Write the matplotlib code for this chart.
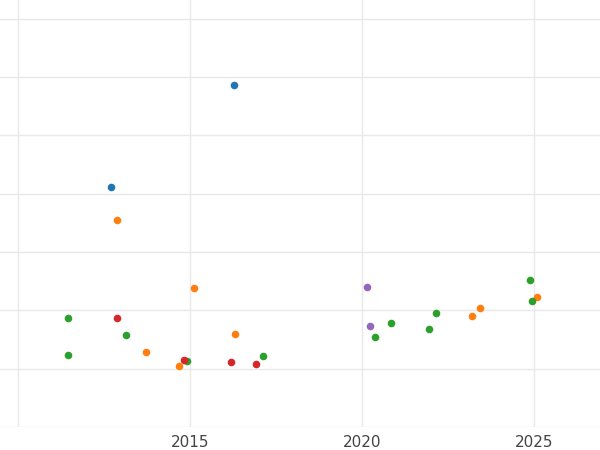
import matplotlib
matplotlib.use("Agg")
import matplotlib.pyplot as plt

blue_x = [2016.28, 2012.70]
blue_y = [5.87, 4.12]
orange_x = [2012.88, 2015.12, 2013.72, 2014.68, 2016.31, 2023.20, 2023.43, 2025.09]
orange_y = [3.55, 2.38, 1.29, 1.05, 1.60, 1.90, 2.04, 2.23]
green_x = [2011.45, 2011.45, 2013.14, 2014.91, 2017.12, 2020.38, 2020.84, 2021.95, 2022.15, 2024.88, 2024.94]
green_y = [1.87, 1.23, 1.58, 1.13, 1.22, 1.54, 1.78, 1.68, 1.96, 2.52, 2.16]
red_x = [2012.88, 2014.83, 2016.19, 2016.92]
red_y = [1.87, 1.15, 1.11, 1.08]
purple_x = [2020.15, 2020.23]
purple_y = [2.40, 1.73]

fig = plt.figure(figsize=(6, 4.5), dpi=100)
ax = fig.add_axes([0, 23 / 450, 1, 1 - 23 / 450])

series = [(blue_x, blue_y, "#1f77b4"), (orange_x, orange_y, "#ff7f0e"),
          (green_x, green_y, "#2ca02c"), (red_x, red_y, "#d62728"),
          (purple_x, purple_y, "#9467bd")]
for xs, ys, c in series:
    ax.scatter(xs, ys, s=30, color=c, zorder=3, linewidths=0)

ax.set_xlim(2009.48, 2026.92)
ax.set_ylim(0, 7.32)
ax.set_xticks([2010, 2015, 2020, 2025])
ax.set_xticklabels(["", "2015", "2020", "2025"])
ax.set_yticks(range(0, 8))
ax.set_yticklabels([])
ax.grid(True, color="#e8e8e8", linewidth=1)
ax.tick_params(length=0, labelsize=11, labelcolor="#444444", pad=6)
for s in ax.spines.values():
    s.set_visible(False)

fig.savefig("out.png", dpi=100)
